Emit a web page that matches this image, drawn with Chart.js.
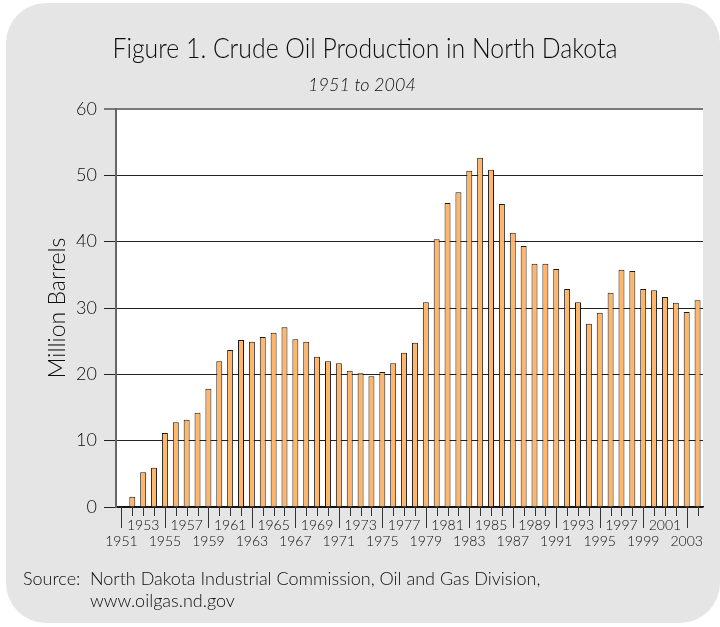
<!DOCTYPE html>
<html>
<head>
<meta charset="utf-8">
<title>Crude Oil Production in North Dakota</title>
<script src="https://cdn.jsdelivr.net/npm/chart.js@4/dist/chart.umd.min.js"></script>
<style>
  html, body { margin: 0; padding: 0; background: #fff; }
  canvas { display: block; }
</style>
</head>
<body>
<canvas id="graficoPetroleo" width="720" height="627"></canvas>
<script>
// Anos (categorias)
const anos = ['1951','1952','1953','1954','1955','1956','1957','1958','1959','1960',
  '1961','1962','1963','1964','1965','1966','1967','1968','1969','1970',
  '1971','1972','1973','1974','1975','1976','1977','1978','1979','1980',
  '1981','1982','1983','1984','1985','1986','1987','1988','1989','1990',
  '1991','1992','1993','1994','1995','1996','1997','1998','1999','2000',
  '2001','2002','2003','2004'];

// Produção em milhões de barris
const producao = [0.03, 1.56, 5.23, 5.93, 11.16, 12.76, 13.17, 14.22, 17.84, 21.96,
  23.67, 25.18, 24.92, 25.63, 26.28, 27.09, 25.28, 24.92, 22.66, 21.96,
  21.66, 20.55, 20.15, 19.70, 20.35, 21.66, 23.27, 24.77, 30.85, 40.35,
  45.83, 47.44, 50.70, 52.66, 50.85, 45.68, 41.36, 39.35, 36.68, 36.68,
  35.88, 32.86, 30.85, 27.64, 29.30, 32.31, 35.78, 35.58, 32.86, 32.66,
  31.66, 30.80, 29.40, 31.16];

// Rótulos do eixo x: linha de cima e linha de baixo
const rotulosCima = ['1953','1957','1961','1965','1969','1973','1977','1981','1985','1989','1993','1997','2001'];
const rotulosBaixo = ['1951','1955','1959','1963','1967','1971','1975','1979','1983','1987','1991','1995','1999','2003'];

const yTicks = [0, 10, 20, 30, 40, 50, 60];

const FONTE = 'Lato, "Noto Sans", sans-serif';
const COR_TEXTO = '#0d0d0d';

function rotuloX(i) {
  const ano = anos[i];
  if (rotulosCima.includes(ano)) return [ano];
  if (rotulosBaixo.includes(ano)) return ['', ano];
  return '';
}

// Fundo cinza arredondado, área branca, títulos, marcas do eixo x e fonte
const decoracao = {
  id: 'decoracao',
  beforeDraw(chart) {
    const ctx = chart.ctx;
    const a = chart.chartArea;
    ctx.save();
    ctx.fillStyle = '#ffffff';
    ctx.fillRect(0, 0, chart.width, chart.height);
    ctx.fillStyle = '#e5e5e5';
    ctx.beginPath();
    ctx.roundRect(6, 3, 714, 620, 40);
    ctx.fill();
    ctx.fillStyle = '#ffffff';
    ctx.fillRect(a.left, a.top, a.right - a.left, a.bottom - a.top);
    ctx.restore();
  },
  afterDraw(chart) {
    const ctx = chart.ctx;
    const x = chart.scales.x;
    const a = chart.chartArea;
    ctx.save();
    // marcas do eixo x
    ctx.strokeStyle = '#333';
    ctx.lineWidth = 1;
    anos.forEach((ano, i) => {
      const px = Math.round(x.getPixelForValue(i)) + 0.5;
      const longa = rotulosBaixo.includes(ano);
      ctx.beginPath();
      ctx.moveTo(px, a.bottom);
      ctx.lineTo(px, a.bottom + (longa ? 21 : 9));
      ctx.stroke();
    });
    // títulos
    ctx.fillStyle = COR_TEXTO;
    ctx.textAlign = 'center';
    ctx.textBaseline = 'alphabetic';
    ctx.font = '300 28px ' + FONTE;
    ctx.fillText('Figure 1. Crude Oil Production in North Dakota', 365, 58, 505);
    ctx.font = 'italic 300 18px ' + FONTE;
    ctx.fillText('1951 to 2004', 362, 91);
    // fonte dos dados
    ctx.textAlign = 'left';
    ctx.font = '300 18px ' + FONTE;
    ctx.fillText('Source:', 23, 585);
    ctx.fillText('North Dakota Industrial Commission, Oil and Gas Division,', 90, 585, 465);
    ctx.fillText('www.oilgas.nd.gov', 90, 607);
    ctx.restore();
  }
};

new Chart(document.getElementById('graficoPetroleo'), {
  type: 'bar',
  data: {
    labels: anos,
    datasets: [{
      label: 'Million Barrels',
      data: producao,
      backgroundColor: '#ffb66a',
      borderColor: '#1a1a1a',
      borderWidth: 1,
      barPercentage: 0.55,
      categoryPercentage: 1
    }]
  },
  options: {
    responsive: false,
    animation: false,
    devicePixelRatio: 1,
    layout: { padding: { top: 109, right: 17, left: 0, bottom: 60 } },
    plugins: {
      legend: { display: false },
      tooltip: { enabled: false }
    },
    scales: {
      x: {
        offset: true,
        grid: { display: false, drawTicks: false },
        border: { display: true, color: '#111', width: 1.5 },
        ticks: {
          autoSkip: false,
          maxRotation: 0,
          minRotation: 0,
          padding: 11,
          color: COR_TEXTO,
          font: { family: FONTE, size: 14, weight: '300', lineHeight: 1.1 },
          callback: (v, i) => rotuloX(i)
        },
        afterFit: s => { s.height = 60; }
      },
      y: {
        min: 0,
        max: 60,
        afterBuildTicks: s => { s.ticks = yTicks.map(v => ({ value: v })); },
        grid: {
          color: c => c.tick && c.tick.value === 60 ? '#7a7a7a' : '#222',
          lineWidth: c => c.tick && c.tick.value === 60 ? 2 : 1,
          tickLength: 12
        },
        border: { display: true, color: '#666', width: 2 },
        ticks: {
          padding: 7,
          color: COR_TEXTO,
          font: { family: FONTE, size: 18, weight: '300' }
        },
        title: {
          display: true,
          text: 'Million Barrels',
          color: COR_TEXTO,
          font: { family: FONTE, size: 23, weight: '300' },
          padding: { top: 44, bottom: 0 }
        },
        afterFit: s => { s.width = 116; }
      }
    }
  },
  plugins: [decoracao]
});
</script>
</body>
</html>
